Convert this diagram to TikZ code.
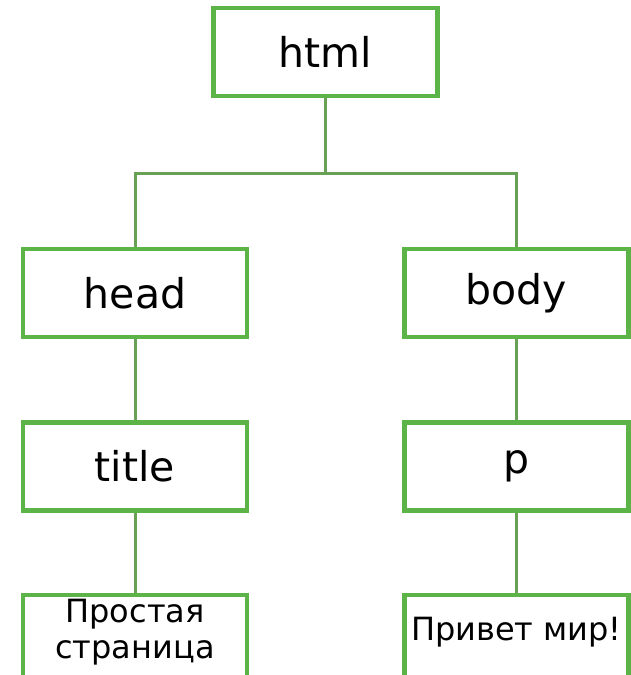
\documentclass[tikz,border=0pt]{standalone}
\usepackage{fontspec}
\setmainfont{DejaVu Sans}
\usepackage{tikz}
\usetikzlibrary{positioning, calc}

\definecolor{boxgreen}{RGB}{92,180,72}
\definecolor{linegreen}{RGB}{104,160,86}

\begin{document}
\begin{tikzpicture}[
  x=1pt, y=-1pt,
  node distance=81pt and 12pt,
  tag/.style={rectangle, draw=boxgreen, line width=4.5pt, fill=white,
    minimum width=224pt, minimum height=88pt, align=center,
    font=\fontsize{41}{49}\selectfont},
  leaf/.style={tag, minimum height=90pt, inner sep=2pt, text depth=22pt,
    font=\fontsize{32}{36}\selectfont},
  link/.style={draw=linegreen, line width=3pt},
]
  \useasboundingbox (0,0) rectangle (631,675);
  \clip (0,0) rectangle (631,675);
  \fill[white] (0,0) rectangle (631,675);

  \node[tag] (html) at (325.5,52) {html};
  \node[tag] (head) at (135,293) {head};
  \node[tag] (body) at (516.5,293) {body};
  \node[tag, below=of head] (title) {title};
  \node[tag, below=of body] (p) {p};
  \node[leaf, below=80pt of title] (page) {Простая\\страница};
  \node[leaf, below=80pt of p] (hello) {Привет мир!};

  % tree edges
  \coordinate (fork) at ($(html.south)+(0,75)$);
  \draw[link] (html.south) -- (fork);
  \draw[link] (head.north) |- (fork) -| (body.north);
  \draw[link] (head) -- (title);
  \draw[link] (body) -- (p);
  \draw[link] (title) -- (page);
  \draw[link] (p) -- (hello);
\end{tikzpicture}
\end{document}
